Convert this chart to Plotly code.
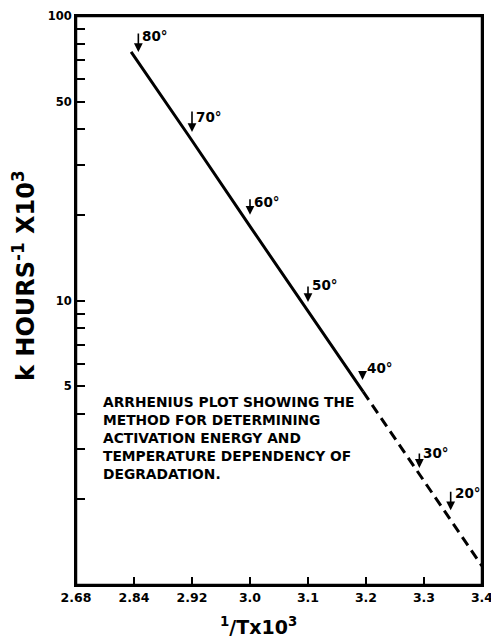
import numpy as np
import plotly.graph_objects as go

# ---- data ----
tick_labels = ["2.68", "2.84", "2.92", "3.0", "3.1", "3.2", "3.3", "3.4"]
tick_values = [2.68, 2.84, 2.92, 3.00, 3.10, 3.20, 3.30, 3.40]

solid_inv_t = [2.832, 2.915, 3.003, 3.096, 3.195]
solid_k = [74.8, 38.1, 17.85, 9.39, 4.78]
dashed_inv_t = [3.195, 3.300, 3.400]
dashed_k = [4.78, 2.32, 1.166]

arrow_labels = ["80°", "70°", "60°", "50°", "40°", "30°", "20°"]
arrow_inv_t = [2.846, 2.920, 3.000, 3.100, 3.194, 3.292, 3.346]
arrow_k = [74.7, 39.1, 20.0, 9.88, 5.26, 2.58, 1.83]
arrow_len = [20, 22, 17, 17, 10, 16, 20]
label_dy = [16, 15, 13, 17, 12, 15, 17]

y_tickvals = [1, 2, 3, 4, 5, 6, 7, 8, 9, 10, 20, 30, 40, 50, 60, 70, 80, 90, 100]
y_labeled = {5: "5", 10: "10", 50: "50", 100: "100"}

note_text = ("ARRHENIUS PLOT SHOWING THE<br>METHOD FOR DETERMINING<br>"
             "ACTIVATION ENERGY AND<br>TEMPERATURE DEPENDENCY OF<br>DEGRADATION.")

# axis in the reference is evenly spaced by label: map 1/T values onto label positions
positions = np.arange(len(tick_values))


def xmap(v):
    return np.interp(v, tick_values, positions)


FONT = "DejaVu Sans"
L_M, R_M, T_M, B_M = 76, 9, 16, 56
PW, PH = 491 - L_M - R_M, 641 - T_M - B_M  # plot area size in px


def px_x(px):
    return (px - L_M) / PW


def px_y(py):
    return (641 - B_M - py) / PH


fig = go.Figure()
fig.add_trace(go.Scatter(x=xmap(solid_inv_t), y=solid_k, mode="lines",
                         line=dict(color="black", width=3), showlegend=False))
fig.add_trace(go.Scatter(x=xmap(dashed_inv_t), y=dashed_k, mode="lines",
                         line=dict(color="black", width=3, dash="10px,6px"), showlegend=False))

annotations = []
for lab, xv, kv, L, dy in zip(arrow_labels, arrow_inv_t, arrow_k, arrow_len, label_dy):
    xp = float(xmap(xv))
    annotations.append(dict(x=xp, y=np.log10(kv), xref="x", yref="y", text="",
                            showarrow=True, ax=0, ay=-L, arrowhead=2, arrowsize=1.1,
                            arrowwidth=1.6, arrowcolor="black"))
    annotations.append(dict(x=xp, y=np.log10(kv), xref="x", yref="y", text=lab,
                            showarrow=False, xanchor="left", yanchor="middle",
                            xshift=2, yshift=dy,
                            font=dict(family=FONT, size=13.5, color="black", weight="bold")))

annotations.append(dict(x=px_x(101), y=px_y(392), xref="paper", yref="paper",
                        text=note_text, showarrow=False, xanchor="left", yanchor="top",
                        align="left",
                        font=dict(family=FONT, size=13.8, color="black", weight="bold")))
annotations.append(dict(x=px_x(24), y=px_y(276), xref="paper", yref="paper",
                        text="k HOURS<sup>-1</sup> X10<sup>3</sup>", textangle=-90,
                        showarrow=False, xanchor="center", yanchor="middle",
                        font=dict(family=FONT, size=24, color="black", weight="bold")))
annotations.append(dict(x=px_x(258), y=px_y(626), xref="paper", yref="paper",
                        text="<sup>1</sup>/Tx10<sup>3</sup>",
                        showarrow=False, xanchor="center", yanchor="middle",
                        font=dict(family=FONT, size=19, color="black", weight="bold")))

fig.update_layout(
    width=491, height=641,
    margin=dict(l=L_M, r=R_M, t=T_M, b=B_M, autoexpand=False),
    paper_bgcolor="white", plot_bgcolor="white",
    annotations=annotations,
    shapes=[dict(type="rect", xref="paper", yref="paper", x0=0, x1=1, y0=0, y1=1,
                 line=dict(color="black", width=2.5), layer="above")],
    xaxis=dict(range=[0, 7], tickvals=list(positions), ticktext=tick_labels,
               ticks="inside", ticklen=8, tickwidth=1.5, tickcolor="black",
               showline=True, linecolor="black", linewidth=2, mirror=True,
               showgrid=False, zeroline=False, ticklabeloverflow="allow",
               automargin=False,
               tickfont=dict(family=FONT, size=12.5, color="black", weight="bold")),
    yaxis=dict(type="log", range=[0, 2], tickvals=y_tickvals,
               ticktext=[y_labeled.get(v, "") for v in y_tickvals],
               ticks="inside", ticklen=9, tickwidth=1.5, tickcolor="black",
               showline=True, linecolor="black", linewidth=2, mirror=True,
               showgrid=False, zeroline=False, automargin=False,
               tickfont=dict(family=FONT, size=11.5, color="black", weight="bold")),
)

fig.write_html(
    "out.html",
    config={"displayModeBar": False},
    post_script=("document.body.style.margin='0';"
                 "document.body.style.overflow='hidden';"
                 "document.documentElement.style.overflow='hidden';"),
)
